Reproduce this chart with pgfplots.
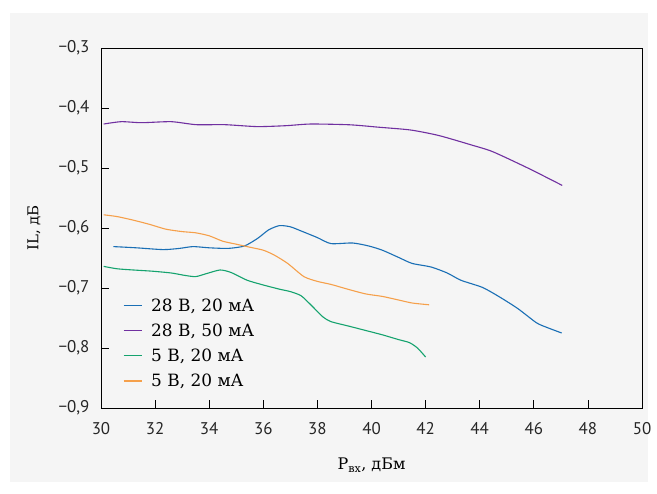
\documentclass[border=0pt]{standalone}
\usepackage{fontspec}
\setmainfont{DejaVu Serif}
\newfontfamily\tickfont{PT Sans}
\usepackage{pgfplots}
\pgfplotsset{compat=1.18}
\definecolor{bgc}{HTML}{F5F5F5}
\definecolor{cblue}{HTML}{1A6FB5}
\definecolor{cpurple}{HTML}{7030A0}
\definecolor{cgreen}{HTML}{15A36E}
\definecolor{corange}{HTML}{F5A04B}
\begin{document}
\begin{tikzpicture}
\fill[white] (-101bp,-86bp) rectangle (556bp,408bp);
\fill[bgc] (-91bp,-74bp) rectangle (547bp,395bp);
\begin{axis}[
  scale only axis, width=541bp, height=360bp,
  xmin=30, xmax=50, ymin=-0.9, ymax=-0.3,
  axis line style={black, line width=0.9bp},
  xtick={30,32,34,36,38,40,42,44,46,48,50},
  xticklabels={30,32,34,36,38,40,42,44,46,48,50},
  ytick={-0.9,-0.8,-0.7,-0.6,-0.5,-0.4,-0.3},
  yticklabels={{−0,9},{−0,8},{−0,7},{−0,6},{−0,5},{−0,4},{−0,3}},
  xtick pos=bottom, ytick pos=left, tick align=inside,
  major tick length=8bp,
  tick style={black, line width=0.8bp},
  tick label style={font=\tickfont\fontsize{17}{19}\selectfont, text=black!85},
  xticklabel style={yshift=-11bp},
  yticklabel style={xshift=-8bp},
  xlabel={P\textsubscript{вх}, дБм},
  ylabel={IL, дБ},
  every axis x label/.style={at={(axis description cs:0.5,0)}, yshift=-57bp, anchor=center, font=\fontsize{16}{18}\selectfont},
  every axis y label/.style={at={(axis description cs:0,0.5)}, xshift=-67bp, rotate=90, anchor=center, font=\fontsize{15}{18}\selectfont},
  legend style={draw=none, fill=none, at={(axis description cs:0.035,0.315)}, anchor=north west,
    font=\fontsize{17}{19}\selectfont, row sep=7bp, nodes={inner xsep=5bp},
    /tikz/every even column/.append style={column sep=0bp}},
  legend cell align=left,
  legend image code/.code={\draw[#1] plot coordinates {(0bp,0bp) (9bp,0bp) (18bp,0bp)};},
  every axis plot/.append style={line width=1.1bp},
]
\addplot[cblue, smooth, tension=0.4] coordinates {(30.46,-0.631) (31.3,-0.633) (32.3,-0.636) (32.9,-0.634) (33.4,-0.631) (34.0,-0.633) (34.7,-0.634) (35.3,-0.630) (35.8,-0.617) (36.2,-0.603) (36.6,-0.596) (37.0,-0.598) (37.4,-0.605) (38.0,-0.616) (38.5,-0.626) (39.3,-0.625) (39.9,-0.630) (40.4,-0.637) (41.0,-0.649) (41.5,-0.659) (42.2,-0.665) (42.8,-0.675) (43.3,-0.687) (44.1,-0.699) (44.7,-0.714) (45.4,-0.734) (46.1,-0.758) (46.5,-0.766) (47.03,-0.775)};
\addlegendentry{\hspace{4bp}28 В, 20 мА}
\addplot[cpurple, smooth, tension=0.4] coordinates {(30.1,-0.4267) (30.75,-0.4228) (31.5,-0.4245) (32.6,-0.4228) (33.52,-0.4278) (34.58,-0.4278) (35.77,-0.431) (36.83,-0.4295) (37.75,-0.4267) (39.2,-0.428) (40.26,-0.432) (41.45,-0.4367) (42.5,-0.446) (43.7,-0.4617) (44.48,-0.4728) (45.8,-0.5005) (47.05,-0.529)};
\addlegendentry{\hspace{4bp}28 В, 50 мА}
\addplot[cgreen, smooth, tension=0.4] coordinates {(30.1,-0.664) (30.6,-0.668) (31.2,-0.670) (31.9,-0.672) (32.6,-0.675) (33.1,-0.679) (33.5,-0.681) (33.9,-0.676) (34.4,-0.670) (34.8,-0.674) (35.4,-0.687) (36.0,-0.695) (36.6,-0.702) (37.0,-0.706) (37.4,-0.713) (37.8,-0.730) (38.2,-0.748) (38.5,-0.756) (39.2,-0.764) (39.8,-0.771) (40.4,-0.778) (41.0,-0.786) (41.4,-0.791) (41.7,-0.800) (42.0,-0.815)};
\addlegendentry{\hspace{4bp}5 В, 20 мА}
\addplot[corange, smooth, tension=0.4] coordinates {(30.1,-0.578) (30.6,-0.581) (31.2,-0.587) (31.8,-0.594) (32.4,-0.602) (33.0,-0.606) (33.5,-0.608) (34.0,-0.613) (34.5,-0.622) (35.0,-0.627) (35.5,-0.632) (36.0,-0.637) (36.4,-0.645) (36.9,-0.659) (37.5,-0.681) (38.0,-0.689) (38.5,-0.694) (39.2,-0.703) (39.8,-0.710) (40.4,-0.714) (41.0,-0.720) (41.5,-0.725) (42.13,-0.728)};
\addlegendentry{\hspace{4bp}5 В, 20 мА}
\end{axis}
\end{tikzpicture}
\end{document}
